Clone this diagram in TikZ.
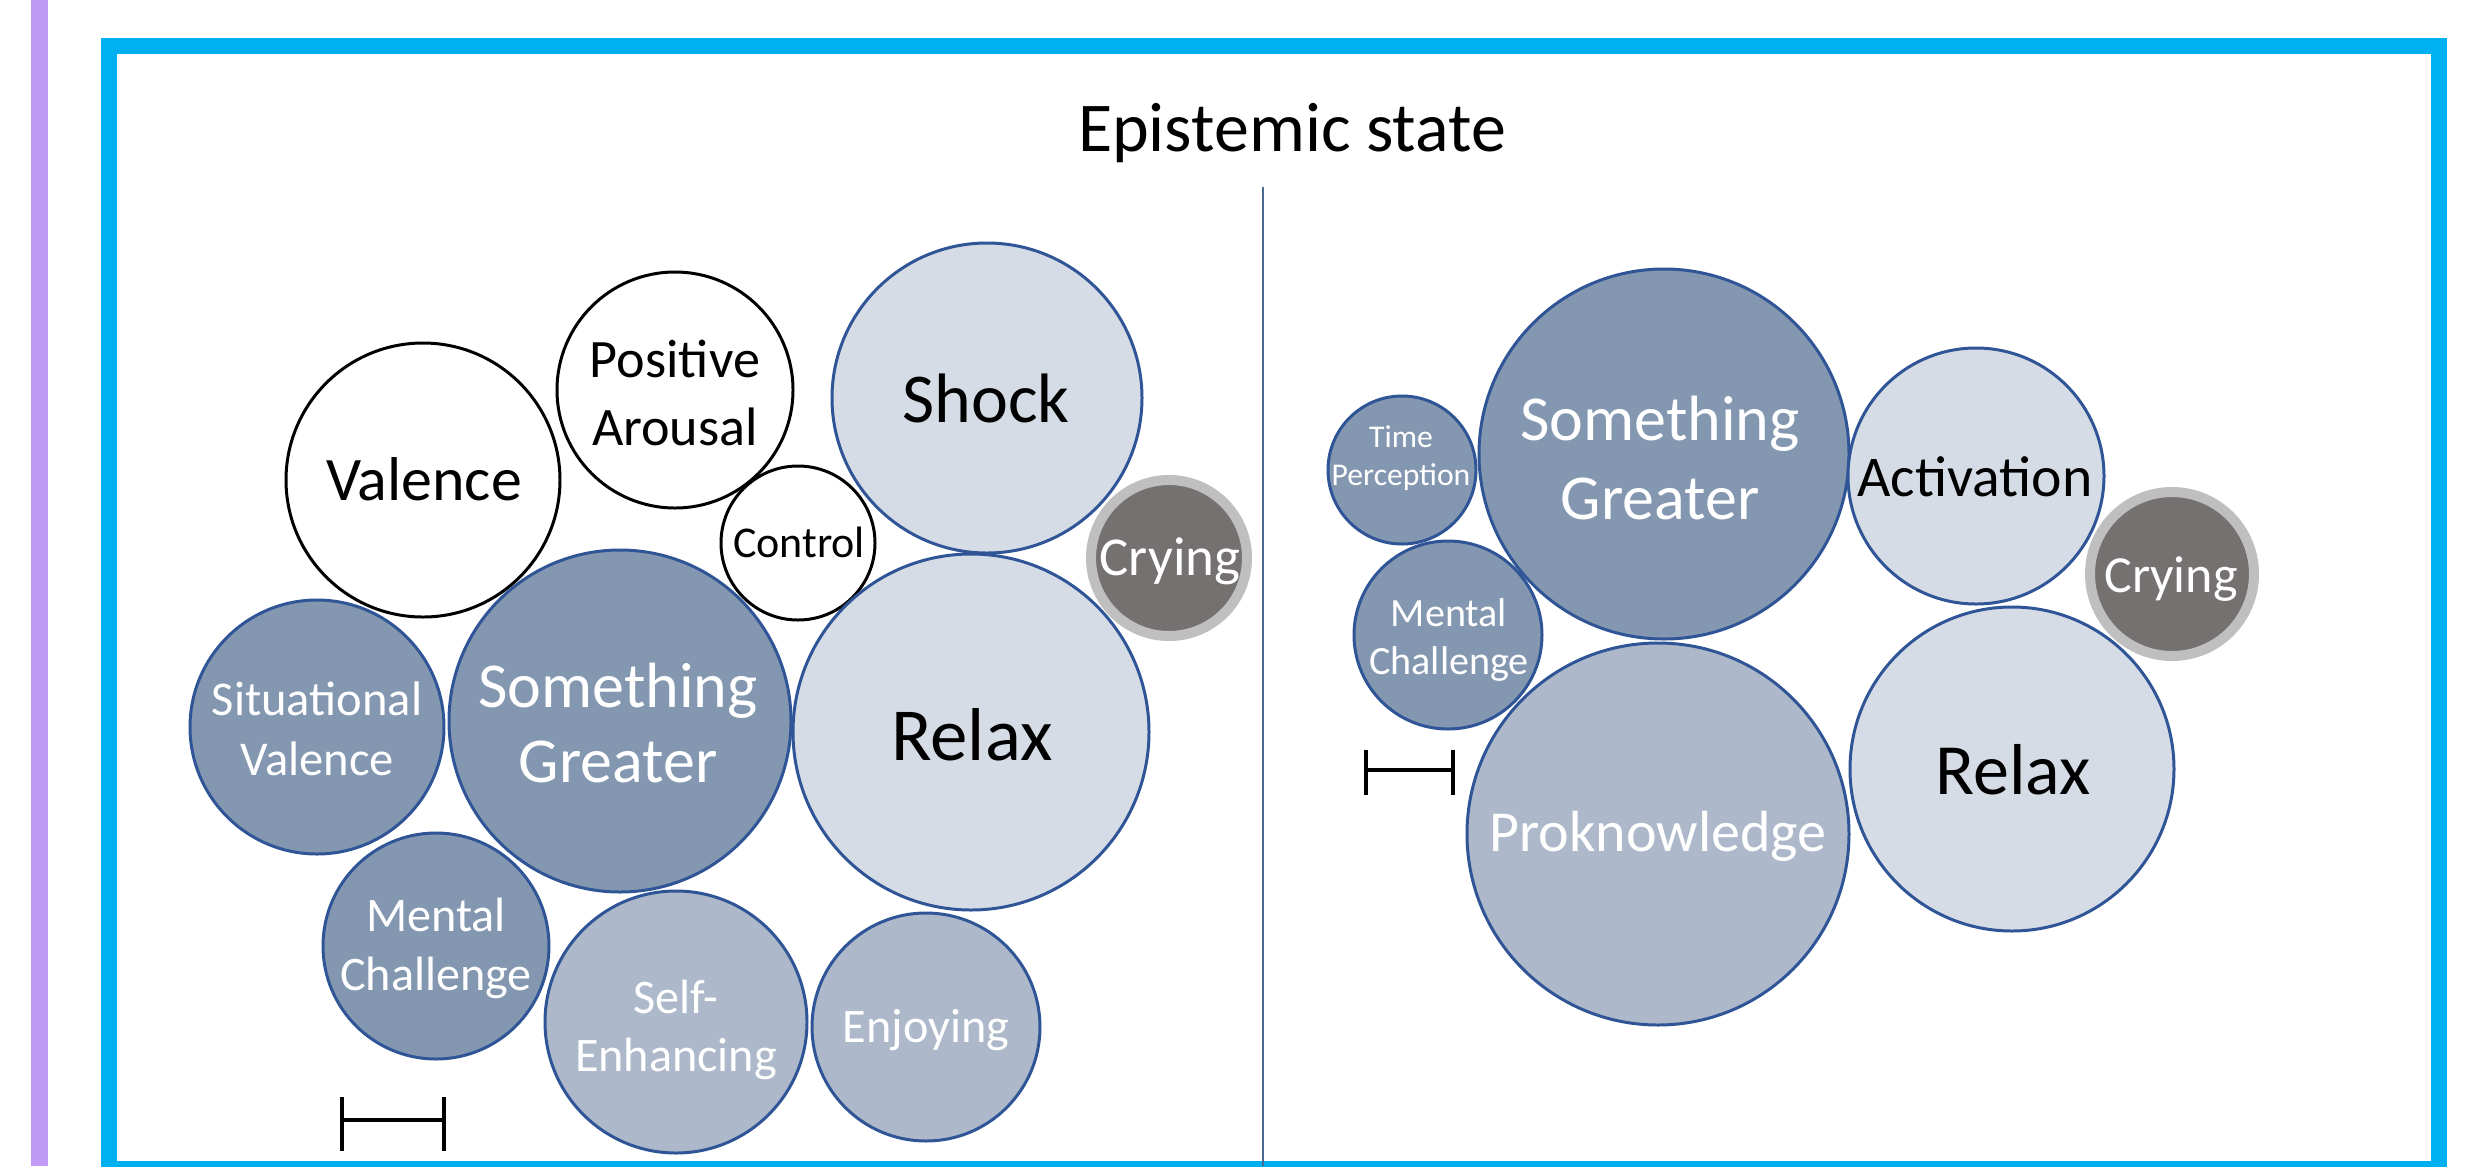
\documentclass[tikz,border=0pt]{standalone}
\usepackage{fontspec}
\setmainfont{Carlito}

\definecolor{framebl}{HTML}{00B0F0}
\definecolor{purp}{HTML}{C09AF5}
\definecolor{bline}{HTML}{2F5597}
\definecolor{bdark}{HTML}{8497B0}
\definecolor{bmid}{HTML}{ADB9CA}
\definecolor{bpale}{HTML}{D6DCE5}
\definecolor{cgray}{HTML}{767171}
\definecolor{cring}{HTML}{BFBFBF}
\definecolor{divl}{HTML}{4A6890}

\newcommand{\bubfont}[2]{\fontsize{#1}{#2}\selectfont}

\tikzset{
  plain/.style={draw=black, line width=0.85pt, fill=white},
  dark/.style={draw=bline, line width=0.85pt, fill=bdark},
  mid/.style={draw=bline, line width=0.85pt, fill=bmid},
  pale/.style={draw=bline, line width=0.85pt, fill=bpale},
  cry/.style={draw=cring, line width=2.85pt, fill=cgray},
  wtxt/.style={text=white, align=center, inner sep=0pt},
  btxt/.style={text=black, align=center, inner sep=0pt},
  scalebar/.style={line width=1.4pt, line cap=rect}
}

\begin{document}
\begin{tikzpicture}[x=0.01cm,y=-0.01cm]
\useasboundingbox (0,0) rectangle (2475,1166);
\fill[white] (0,0) rectangle (2475,1166);

\fill[purp] (31,0) rectangle (48,1166);
\draw[framebl, line width=4.55pt] (109,46) rectangle (2439,1169);
\draw[divl, line width=0.6pt] (1263,187) -- (1263,1166);

\node[btxt, anchor=base, font=\bubfont{19.9pt}{24pt}] (title) at (1292,151) {Epistemic state};

% left
\draw[plain] (423,480) circle (137);
\draw[plain] (675,390) circle (118);
\draw[plain] (798,543) circle (77);
\draw[pale] (987,398) circle (155);
\draw[cry] (1169,558) circle (78);
\draw[dark] (317,727) circle (127);
\draw[dark] (620,721) circle (171);
\draw[pale] (971,732) circle (178);
\draw[dark] (436,946) circle (113);
\draw[mid] (676,1022) circle (131);
\draw[mid] (926,1027) circle (114);

\node[btxt, anchor=base, font=\bubfont{17.6pt}{21pt}] (valence) at (424,500) {Valence};
\node[btxt, font=\bubfont{15.4pt}{19.1pt}] (posar) at (675,393) {Positive\\Arousal};
\node[btxt, anchor=base, font=\bubfont{12.5pt}{15pt}] (control) at (799,557) {Control};
\node[btxt, anchor=base, font=\bubfont{19.9pt}{24pt}] (shock) at (986,422) {Shock};
\node[wtxt, anchor=base, font=\bubfont{15.6pt}{19pt}] (cryL) at (1170,575) {Crying};
\node[wtxt, font=\bubfont{13.8pt}{17pt}] (sitval) at (317,729) {Situational\\Valence};
\node[wtxt, font=\bubfont{18.2pt}{21.6pt}] (sgL) at (618,723) {Something\\Greater};
\node[btxt, anchor=base, font=\bubfont{21.3pt}{25pt}] (relaxL) at (972,760) {Relax};
\node[wtxt, font=\bubfont{13.7pt}{16.8pt}] (mcL) at (436,948) {Mental\\Challenge};
\node[wtxt, font=\bubfont{13.7pt}{16.5pt}] (selfenh) at (676,1030) {Self-\\Enhancing};
\node[wtxt, anchor=base, font=\bubfont{13.7pt}{16.5pt}] (enjoy) at (926,1042) {Enjoying};

\draw[scalebar] (342,1099) -- (342,1149) (342,1120) -- (444,1120) (444,1099) -- (444,1149);

% right
\draw[dark] (1402,470) circle (74);
\draw[dark] (1664,454) circle (185);
\draw[dark] (1448,635) circle (94);
\draw[pale] (1976,476) circle (128);
\draw[cry] (2172,574) circle (82);
\draw[mid] (1658,834) circle (191);
\draw[pale] (2012,769) circle (162);

\node[wtxt, font=\bubfont{9pt}{10.9pt}] (timep) at (1401,458) {Time\\Perception};
\node[wtxt, font=\bubfont{18.2pt}{22.3pt}] (sgR) at (1660,458) {Something\\Greater};
\node[wtxt, font=\bubfont{11.4pt}{13.7pt}] (mcR) at (1449,640) {Mental\\Challenge};
\node[btxt, anchor=base, font=\bubfont{16.4pt}{20pt}] (activ) at (1975,496) {Activation};
\node[wtxt, anchor=base, font=\bubfont{14.8pt}{18pt}] (cryR) at (2171,592) {Crying};
\node[wtxt, anchor=base, font=\bubfont{16.5pt}{20pt}] (prok) at (1658,851) {Proknowledge};
\node[btxt, anchor=base, font=\bubfont{20.5pt}{24pt}] (relaxR) at (2013,794) {Relax};

\draw[scalebar] (1366,752) -- (1366,793) (1366,770) -- (1453,770) (1453,752) -- (1453,793);
\end{tikzpicture}
\end{document}
